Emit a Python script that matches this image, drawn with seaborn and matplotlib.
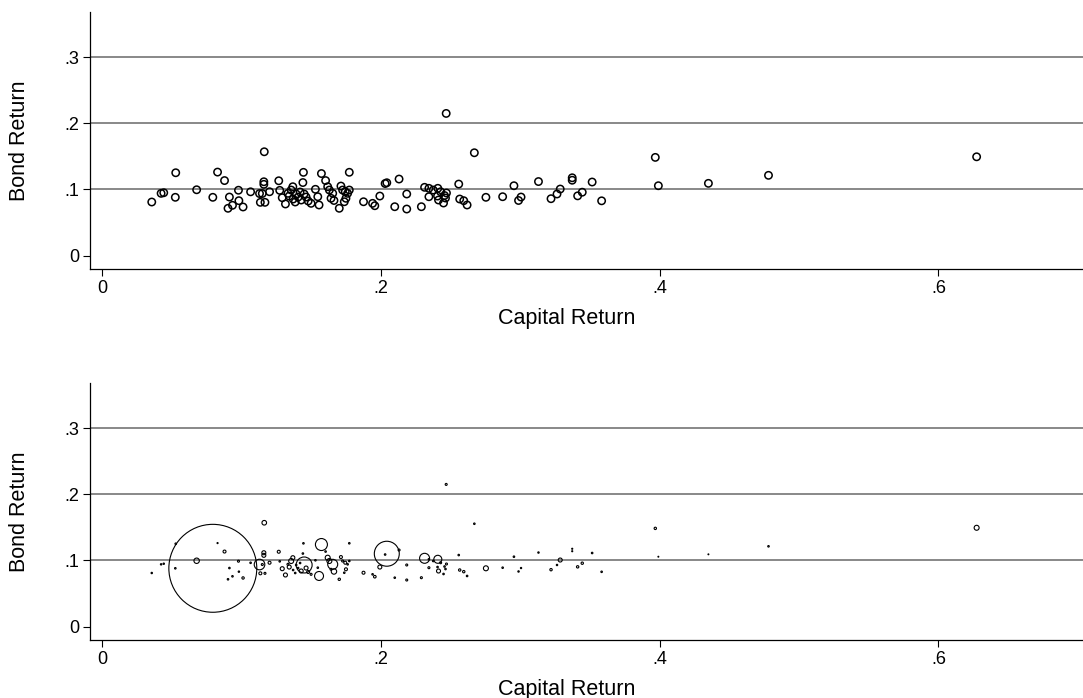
import matplotlib
matplotlib.use("Agg")
import matplotlib.pyplot as plt
import seaborn as sns
import pandas as pd

capital_return = [
    0.0357, 0.0424, 0.0443, 0.0529, 0.0526, 0.0679, 0.0795, 0.0829, 0.0879, 0.0914,
    0.0904, 0.0936, 0.0979, 0.0982, 0.1012, 0.1066, 0.1164, 0.1161, 0.1161, 0.1130,
    0.1150, 0.1136, 0.1169, 0.1202, 0.1268, 0.1275, 0.1293, 0.1316, 0.1334, 0.1357,
    0.1369, 0.1343, 0.1371, 0.1393, 0.1386, 0.1407, 0.1445, 0.1441, 0.1421, 0.1450,
    0.1464, 0.1429, 0.1479, 0.1500, 0.1531, 0.1548, 0.1574, 0.1604, 0.1557, 0.1619,
    0.1631, 0.1655, 0.1643, 0.1664, 0.1702, 0.1714, 0.1726, 0.1745, 0.1738, 0.1750,
    0.1774, 0.1774, 0.1762, 0.1876, 0.1941, 0.1957, 0.1993, 0.2031, 0.2043, 0.2131,
    0.2100, 0.2186, 0.2186, 0.2291, 0.2314, 0.2345, 0.2376, 0.2409, 0.2429, 0.2345,
    0.2407, 0.2414, 0.2450, 0.2464, 0.2471, 0.2457, 0.2469, 0.2559, 0.2566, 0.2595,
    0.2619, 0.2671, 0.2754, 0.2874, 0.2955, 0.2988, 0.3006, 0.3131, 0.3221, 0.3264,
    0.3287, 0.3373, 0.3373, 0.3412, 0.3445, 0.3516, 0.3584, 0.3969, 0.3991, 0.4350,
    0.4781, 0.6274,
]
bond_return = [
    0.0810, 0.0941, 0.0950, 0.1252, 0.0881, 0.0995, 0.0881, 0.1262, 0.1134, 0.0885,
    0.0715, 0.0760, 0.0988, 0.0830, 0.0735, 0.0964, 0.1569, 0.1116, 0.1077, 0.0938,
    0.0938, 0.0805, 0.0805, 0.0965, 0.1131, 0.0986, 0.0875, 0.0780, 0.0941, 0.0991,
    0.1041, 0.0900, 0.0855, 0.0931, 0.0810, 0.0885, 0.1258, 0.1104, 0.0961, 0.0931,
    0.0885, 0.0840, 0.0825, 0.0790, 0.1002, 0.0890, 0.1240, 0.1134, 0.0765, 0.1041,
    0.0991, 0.0941, 0.0866, 0.0833, 0.0715, 0.1051, 0.0991, 0.0965, 0.0814, 0.0866,
    0.1259, 0.0991, 0.0941, 0.0814, 0.0790, 0.0754, 0.0900, 0.1089, 0.1101, 0.1157,
    0.0739, 0.0704, 0.0931, 0.0739, 0.1032, 0.1017, 0.0991, 0.1017, 0.0965, 0.0890,
    0.0900, 0.0840, 0.0795, 0.0870, 0.0946, 0.0908, 0.2148, 0.1081, 0.0855, 0.0830,
    0.0765, 0.1554, 0.0881, 0.0890, 0.1056, 0.0833, 0.0885, 0.1119, 0.0860, 0.0931,
    0.1006, 0.1176, 0.1139, 0.0903, 0.0958, 0.1112, 0.0828, 0.1484, 0.1056, 0.1092,
    0.1213, 0.1493,
]
weight = [
    0.5, 0.5, 0.5, 0.6, 0.6, 7.3, 1936, 0.3, 2.2, 0.6,
    0.6, 0.6, 1.0, 0.5, 1.4, 0.6, 5.3, 4, 4, 28,
    1, 2.2, 1, 2.2, 2.2, 0.6, 4, 4, 1, 6.2,
    4, 4, 0.6, 0.6, 0.6, 0.6, 0.6, 0.6, 0.6, 64,
    4, 4, 2.2, 1, 0.6, 0.6, 36, 0.6, 20, 6.2,
    6.2, 25, 1, 7.3, 1.4, 2.2, 1, 2.2, 0.6, 2.2,
    0.6, 0.6, 0.6, 2.2, 0.6, 1.7, 4, 0.6, 156, 1,
    0.6, 1, 1, 1, 25, 0.6, 0.6, 16, 1, 1,
    0.6, 4, 0.6, 0.6, 1, 0.6, 1, 0.6, 1.4, 1.4,
    0.6, 0.6, 6.2, 0.6, 0.6, 0.5, 0.4, 0.5, 1.4, 0.5,
    4, 0.3, 0.3, 1.4, 1.4, 0.6, 0.6, 1.4, 0.2, 0.2,
    0.6, 6.2,
]

x_ticks = [0, 0.2, 0.4, 0.6]
x_tick_labels = ["0", ".2", ".4", ".6"]
y_ticks = [0, 0.1, 0.2, 0.3]
y_tick_labels = ["0", ".1", ".2", ".3"]
grid_levels = [0.1, 0.2, 0.3]


def style_axis(ax):
    ax.set_xlim(-0.0086, 0.7037)
    ax.set_ylim(-0.0202, 0.368)
    ax.set_xticks(x_ticks)
    ax.set_xticklabels(x_tick_labels)
    ax.set_yticks(y_ticks)
    ax.set_yticklabels(y_tick_labels)
    for level in grid_levels:
        ax.axhline(level, color="#7f7f7f", lw=1.3, zorder=1)
    for side in ("top", "right"):
        ax.spines[side].set_visible(False)
    for side in ("left", "bottom"):
        ax.spines[side].set_color("black")
        ax.spines[side].set_linewidth(0.9)
    ax.tick_params(direction="out", length=5, width=0.8, color="black",
                   labelsize=13, pad=3, labelcolor="black")
    ax.set_xlabel("Capital Return", fontsize=15.5, color="black")
    ax.xaxis.set_label_coords(0.48, -0.15)
    ax.set_ylabel("Bond Return", fontsize=15.5, color="black")
    ax.yaxis.set_label_coords(-0.06, 0.5)


def main():
    df = pd.DataFrame({"capital": capital_return, "bond": bond_return, "weight": weight})

    sns.set_theme(style="ticks")
    plt.rcParams["font.family"] = ["Liberation Sans", "DejaVu Sans"]

    fig = plt.figure(figsize=(10.83, 6.98), dpi=100)
    ax_top = fig.add_axes([0.0831, 0.6146, 0.9169, 0.3682])
    ax_bot = fig.add_axes([0.0831, 0.0831, 0.9169, 0.3682])

    # plain scatter
    sns.scatterplot(data=df, x="capital", y="bond", ax=ax_top, s=28, marker="o",
                    facecolors="none", edgecolor="black", linewidth=1.1, zorder=3)

    # marker area proportional to weight
    k = 2.07
    sns.scatterplot(data=df, x="capital", y="bond", size="weight",
                    sizes=(k * df.weight.min(), k * df.weight.max()), ax=ax_bot,
                    marker="o", facecolors="none", edgecolor="black",
                    linewidth=0.8, legend=False, zorder=3)

    style_axis(ax_top)
    style_axis(ax_bot)

    fig.savefig("out.png", dpi=100)


if __name__ == '__main__':
    main()
